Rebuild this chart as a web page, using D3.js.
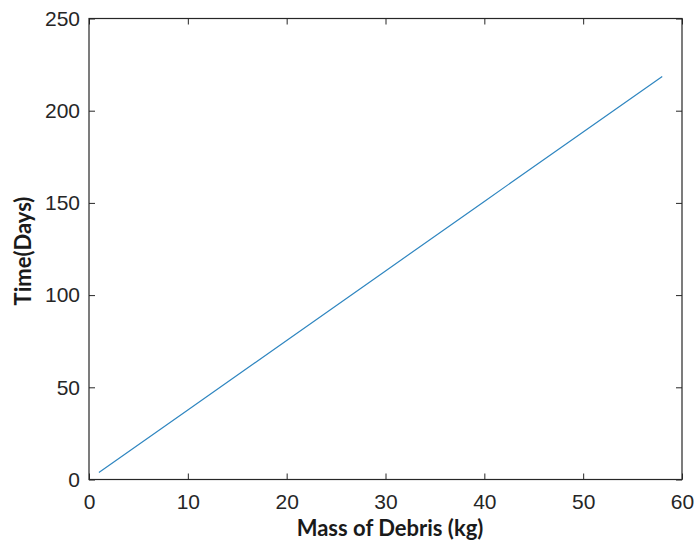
<!DOCTYPE html>
<html><head><meta charset="utf-8">
<script src="https://cdn.jsdelivr.net/npm/d3@7"></script>
<style>body{margin:0;background:#fff}svg{display:block}</style>
</head><body><svg id="c" width="697" height="545"></svg>
<script>
const mass = [1, 10, 20, 30, 40, 50, 58];
const days = [3.8, 37.7, 75.4, 113.1, 150.8, 188.5, 218.6];
const xTicks = [0, 10, 20, 30, 40, 50, 60];
const yTicks = [0, 50, 100, 150, 200, 250];
const xLabel = "Mass of Debris (kg)";
const yLabel = "Time(Days)";

const svg = d3.select("#c");
const L = 89, R = 682, T = 18.5, B = 479.5;
const x = d3.scaleLinear().domain([0, 60]).range([L, R]);
const y = d3.scaleLinear().domain([0, 250]).range([B, T]);
const axisCol = "#262626";
const tickFont = "'Liberation Sans', Arial, sans-serif";

function styleAxis(g, hideText) {
  g.select(".domain").remove();
  g.selectAll(".tick line").attr("stroke", axisCol).attr("stroke-width", 1);
  g.selectAll(".tick text").attr("fill", axisCol).style("font-family", tickFont).style("font-size", "21px");
  if (hideText) g.selectAll(".tick text").remove();
}
svg.append("g").attr("transform", `translate(0,${B})`)
  .call(d3.axisBottom(x).tickValues(xTicks).tickSize(-6).tickPadding(15).tickFormat(d3.format("d")))
  .call(g => styleAxis(g, false));
svg.append("g").attr("transform", `translate(0,${T})`)
  .call(d3.axisTop(x).tickValues(xTicks).tickSize(-6)).call(g => styleAxis(g, true));
svg.append("g").attr("transform", `translate(${L},0)`)
  .call(d3.axisLeft(y).tickValues(yTicks).tickSize(-6).tickPadding(9).tickFormat(d3.format("d")))
  .call(g => styleAxis(g, false));
svg.append("g").attr("transform", `translate(${R},0)`)
  .call(d3.axisRight(y).tickValues(yTicks).tickSize(-6)).call(g => styleAxis(g, true));

svg.append("rect").attr("x", L).attr("y", T).attr("width", R - L).attr("height", B - T)
  .attr("fill", "none").attr("stroke", axisCol).attr("stroke-width", 1.2);

const pts = mass.map((m, i) => [m, days[i]]);
svg.append("path").datum(pts)
  .attr("d", d3.line().x(d => x(d[0])).y(d => y(d[1])))
  .attr("fill", "none").attr("stroke", "#2f86c0").attr("stroke-width", 1.2);

svg.append("text").attr("x", 390).attr("y", 536).attr("text-anchor", "middle")
  .style("font-family", "Lato, 'Open Sans', sans-serif").style("font-weight", "bold").style("font-size", "22px")
  .attr("fill", "#1a1a1a").text(xLabel);
svg.append("text").attr("transform", `translate(31,251) rotate(-90)`).attr("text-anchor", "middle")
  .style("font-family", "Lato, 'Open Sans', sans-serif").style("font-weight", "bold").style("font-size", "22px")
  .attr("fill", "#1a1a1a").text(yLabel);
</script></body></html>
